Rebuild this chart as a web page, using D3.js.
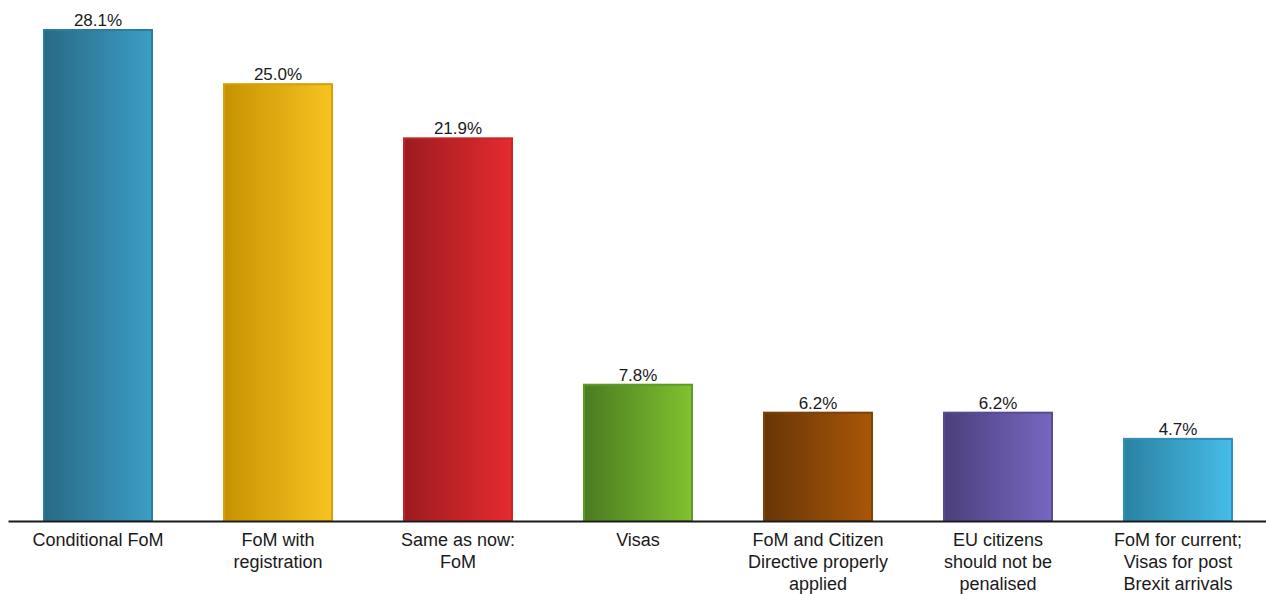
<!DOCTYPE html>
<html>
<head>
<meta charset="utf-8">
<script src="https://cdn.jsdelivr.net/npm/d3@7"></script>
<style>
  html, body { margin: 0; padding: 0; background: #fff; }
  svg { display: block; }
  text { font-family: "Liberation Sans", Arial, sans-serif; fill: #1a1a1a; }
</style>
</head>
<body>
<svg id="chart" width="1266" height="594"></svg>
<script>
const categories = [
  "Conditional FoM",
  "FoM with\nregistration",
  "Same as now:\nFoM",
  "Visas",
  "FoM and Citizen\nDirective properly\napplied",
  "EU citizens\nshould not be\npenalised",
  "FoM for current;\nVisas for post\nBrexit arrivals"
];
const values = [28.1, 25.0, 21.9, 7.8, 6.2, 6.2, 4.7];
const valueLabels = ["28.1%", "25.0%", "21.9%", "7.8%", "6.2%", "6.2%", "4.7%"];
const gradLeft  = ["#286a85", "#c79200", "#9c1b1f", "#4b7b21", "#683506", "#4b3f7b", "#2a82a2"];
const gradRight = ["#3c9dc6", "#f8c322", "#e62b2f", "#80c22f", "#a95708", "#7867c2", "#46bce9"];
const strokes   = ["#2b7d9e", "#d6a00c", "#c0262a", "#5f9a26", "#7c4208", "#5a4a92", "#2f90b3"];

const svg = d3.select("#chart");

const x = d3.scaleBand()
  .domain(categories)
  .range([8, 1268])
  .paddingInner(0.4)
  .paddingOuter(0.2);

const y = d3.scaleLinear()
  .domain([0, 28.1])
  .range([521, 30]);

const defs = svg.append("defs");
categories.forEach((c, i) => {
  const g = defs.append("linearGradient")
    .attr("id", "grad" + i)
    .attr("x1", "0%").attr("x2", "100%")
    .attr("y1", "0%").attr("y2", "0%");
  g.append("stop").attr("offset", "0%").attr("stop-color", gradLeft[i]);
  g.append("stop").attr("offset", "100%").attr("stop-color", gradRight[i]);
});

const data = categories.map((c, i) => ({ c, v: values[i], label: valueLabels[i], i }));

svg.append("g").selectAll("rect")
  .data(data)
  .join("rect")
  .attr("x", d => x(d.c))
  .attr("y", d => y(d.v))
  .attr("width", x.bandwidth())
  .attr("height", d => y(0) - y(d.v))
  .attr("fill", d => `url(#grad${d.i})`)
  .attr("stroke", d => strokes[d.i])
  .attr("stroke-width", 2);

svg.append("g").selectAll("text")
  .data(data)
  .join("text")
  .attr("x", d => x(d.c) + x.bandwidth() / 2)
  .attr("y", d => y(d.v) - 4)
  .attr("text-anchor", "middle")
  .style("font-size", "17px")
  .text(d => d.label);

const axis = svg.append("g")
  .attr("transform", `translate(0,${y(0)})`)
  .call(d3.axisBottom(x).tickSize(0).tickPadding(0));

axis.select(".domain")
  .attr("stroke", "#1a1a1a")
  .attr("stroke-width", 2);

axis.selectAll(".tick text").each(function(d) {
  const t = d3.select(this);
  t.text(null)
    .attr("y", 0)
    .attr("dy", null)
    .style("font-size", "18px")
    .style("font-family", '"Liberation Sans", Arial, sans-serif')
    .attr("fill", "#1a1a1a");
  d.split("\n").forEach((line, k) => {
    t.append("tspan")
      .attr("x", 0)
      .attr("y", 25 + k * 22)
      .text(line);
  });
});
</script>
</body>
</html>
